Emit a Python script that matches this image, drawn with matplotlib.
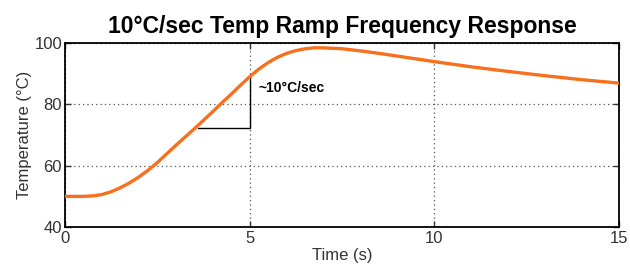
import matplotlib
matplotlib.use('Agg')
import matplotlib.pyplot as plt

# =========================
# DATA
# =========================
time_s = [0, 0.5, 0.8, 1.0, 1.25, 1.5, 1.75, 2.0, 2.25, 2.5, 2.75, 3.0, 3.25, 3.5,
          3.75, 4.0, 4.25, 4.5, 4.75, 5.0, 5.25, 5.5, 5.75, 6.0, 6.25, 6.5,
          6.75, 7.0, 7.5, 8.0, 8.5, 9.0, 9.5, 10.0, 11.0, 12.0, 13.0, 14.0, 15.0]
temp_c = [50.0, 50.0, 50.2, 50.6, 51.5, 52.8, 54.4, 56.3, 58.5, 61.0, 63.8, 66.6, 69.3, 72.0,
          74.8, 77.6, 80.5, 83.3, 86.2, 89.0, 91.5, 93.6, 95.3, 96.6, 97.5, 98.1,
          98.4, 98.4, 98.1, 97.4, 96.6, 95.7, 94.8, 93.9, 92.2, 90.7, 89.3, 88.0, 86.9]

x_ticks = [0, 5, 10, 15]
y_ticks = [40, 60, 80, 100]

# slope marker (triangle)
tri_x = [3.6, 5.0, 5.0]
tri_y = [72.4, 72.4, 89.0]
slope_label = '~10°C/sec'

plt.rcParams['font.family'] = ['Liberation Sans', 'DejaVu Sans']

fig = plt.figure(figsize=(6.3, 2.7), dpi=100)
ax = fig.add_axes([0.103, 0.159, 0.880, 0.682])

ax.plot(time_s, temp_c, color='#F7701E', linewidth=2.4, solid_capstyle='round', zorder=3)
ax.plot(tri_x, tri_y, color='black', linewidth=1.0, zorder=2)
ax.text(5.25, 85.3, slope_label, fontsize=10, fontweight='bold', va='center', ha='left')

ax.set_xlim(0, 15)
ax.set_ylim(40, 100)
ax.set_xticks(x_ticks)
ax.set_yticks(y_ticks)
ax.grid(True, color='#555555', linestyle=(0, (1, 2.5)), linewidth=0.9)
ax.tick_params(direction='in', top=True, right=True, length=4, width=1,
               labelsize=12, colors='#333333', pad=3)
ax.tick_params(axis='y', pad=2)
for sp in ax.spines.values():
    sp.set_linewidth(1.3)

ax.set_xlabel('Time (s)', fontsize=12, color='#333333', labelpad=1)
ax.set_ylabel('Temperature (°C)', fontsize=12, color='#333333', labelpad=2)
ax.set_title('10°C/sec Temp Ramp Frequency Response', fontsize=16.5, fontweight='bold', pad=7)

fig.savefig('out.png', dpi=100)
